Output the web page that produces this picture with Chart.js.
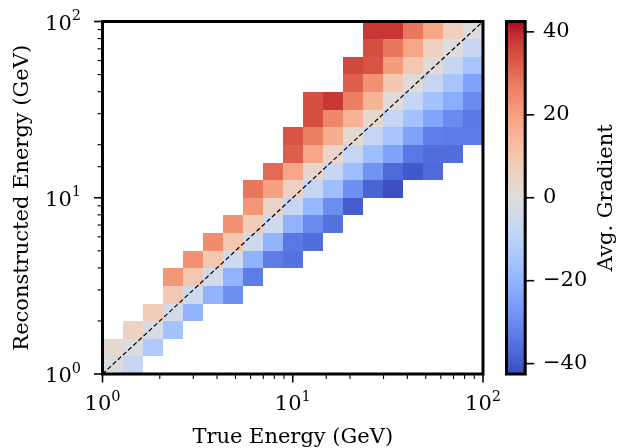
<!DOCTYPE html>
<html>
<head>
<meta charset="utf-8">
<script src="https://cdn.jsdelivr.net/npm/chart.js@4.4.0/dist/chart.umd.min.js"></script>
<style>
  html, body { margin: 0; padding: 0; background: #fff; }
  #wrap { width: 618px; height: 448px; }
</style>
</head>
<body>
<div id="wrap"><canvas id="gradChart" width="618" height="448"></canvas></div>
<script>
// log-spaced bins over 1..100 GeV
const trueBinCount = 19;
const recoBinCount = 20;

// lowest filled reco bin for each true-energy column
const firstRecoBin = [0, 0, 1, 2, 3, 4, 4, 5, 6, 6, 7, 8, 9, 10, 10, 11, 11, 12, 13];

// average gradient per filled cell, column by column, from the lowest reco bin up
const avgGradient = [
  [-1, 3],
  [-7, -1, 6],
  [-13, -2, 8],
  [-16, -3.5, 9.5, 22],
  [-20, -5, 9.5, 23],
  [-20, -3.5, 9.5, 24],
  [-29, -20, -5, 9.5, 23],
  [-33, -20.5, -5, 8, 22, 28],
  [-33, -20, -5, 5, 20, 30],
  [-35, -34, -20, -7, 6, 18.5, 32, 34],
  [-36, -30, -19, -7, 4, 18, 27, 34.5, 34.5],
  [-35, -29.5, -17, -7, 4, 17, 25, 38],
  [-39.5, -29, -17, -7, 3, 15.5, 26.5, 32, 35.5],
  [-38, -28, -17, -7, 3, 15, 23, 34, 34.5, 38],
  [-42, -37, -24.5, -15, -7, 1, 10, 20.5, 28, 38],
  [-40, -34, -24.5, -16, -7, 1, 9.5, 18.5, 28],
  [-37, -36, -32, -24, -16, -7, 1, 7, 18.5],
  [-36, -33, -30, -22, -15, -7, 0, 7],
  [-33, -34, -30, -24.5, -15, -7, -0.5]
];

const axisMin = 1;
const axisMax = 100;
const cbMin = -42.5;
const cbMax = 42.5;
const cbTicks = [-40, -20, 0, 20, 40];

// coolwarm diverging map
const coolwarm = [
  [59,76,192],[68,90,204],[77,104,215],[87,117,225],[98,130,234],[108,142,241],
  [119,154,247],[130,165,251],[141,176,254],[152,185,255],[163,194,255],[174,201,253],
  [184,208,249],[194,213,244],[204,217,238],[213,219,230],[221,221,221],[229,216,209],
  [236,211,197],[241,204,185],[245,196,173],[247,187,160],[247,177,148],[247,166,135],
  [244,154,123],[241,141,111],[236,127,99],[229,112,88],[222,96,77],[213,80,66],
  [203,62,56],[192,40,47],[180,4,38]
];

function cmap(t) {
  t = Math.min(1, Math.max(0, t));
  const p = t * (coolwarm.length - 1);
  const i = Math.min(coolwarm.length - 2, Math.floor(p));
  const f = p - i;
  const a = coolwarm[i], b = coolwarm[i + 1];
  const c = a.map((v, k) => Math.round(v + (b[k] - v) * f));
  return 'rgb(' + c.join(',') + ')';
}

function trueEdge(i) { return Math.pow(10, 2 * i / trueBinCount); }
function recoEdge(j) { return Math.pow(10, 2 * j / recoBinCount); }
function isDecade(v) { return Math.abs(Math.log10(v) - Math.round(Math.log10(v))) < 1e-9; }

const serif = "'DejaVu Serif', serif";
const fontSize = 21;
const expSize = 14.5;

// "10" with a raised exponent; anchor is 'center' or 'right'
function drawPower(ctx, v, x, baseline, anchor) {
  const base = '10', exp = String(Math.round(Math.log10(v)));
  ctx.font = fontSize + 'px ' + serif;
  const wb = ctx.measureText(base).width;
  ctx.font = expSize + 'px ' + serif;
  const we = ctx.measureText(exp).width;
  const w = wb + we;
  const x0 = anchor === 'center' ? x - w / 2 : x - w;
  ctx.textAlign = 'left';
  ctx.textBaseline = 'alphabetic';
  ctx.font = fontSize + 'px ' + serif;
  ctx.fillText(base, x0, baseline);
  ctx.font = expSize + 'px ' + serif;
  ctx.fillText(exp, x0 + wb, baseline - 9.5);
}

const heatmapCells = {
  id: 'heatmapCells',
  beforeDatasetsDraw(chart) {
    const { ctx, scales: { x, y } } = chart;
    ctx.save();
    avgGradient.forEach((col, i) => {
      const x0 = Math.round(x.getPixelForValue(trueEdge(i)));
      const x1 = Math.round(x.getPixelForValue(trueEdge(i + 1)));
      col.forEach((v, k) => {
        const j = firstRecoBin[i] + k;
        const y0 = Math.round(y.getPixelForValue(recoEdge(j)));
        const y1 = Math.round(y.getPixelForValue(recoEdge(j + 1)));
        ctx.fillStyle = cmap((v - cbMin) / (cbMax - cbMin));
        ctx.fillRect(x0, y1, x1 - x0, y0 - y1);
      });
    });
    ctx.restore();
  },
  afterDraw(chart) {
    const { ctx, chartArea: a, scales: { x, y, cb } } = chart;
    ctx.save();
    ctx.strokeStyle = '#000';
    ctx.fillStyle = '#000';

    // log-axis tick marks, longer at each decade, and decade labels
    x.ticks.forEach(t => {
      const major = isDecade(t.value);
      const px = x.getPixelForValue(t.value);
      ctx.lineWidth = major ? 1.6 : 1.1;
      ctx.beginPath();
      ctx.moveTo(px, a.bottom);
      ctx.lineTo(px, a.bottom + (major ? 8.5 : 5));
      ctx.stroke();
      if (major) drawPower(ctx, t.value, px, 410, 'center');
    });
    y.ticks.forEach(t => {
      const major = isDecade(t.value);
      const py = y.getPixelForValue(t.value);
      ctx.lineWidth = major ? 1.6 : 1.1;
      ctx.beginPath();
      ctx.moveTo(a.left, py);
      ctx.lineTo(a.left - (major ? 8.5 : 5), py);
      ctx.stroke();
      if (major) drawPower(ctx, t.value, 81, py + 8, 'right');
    });

    // plot frame
    ctx.lineWidth = 3;
    ctx.strokeRect(a.left, a.top, a.right - a.left, a.bottom - a.top);

    // colorbar
    const cbLeft = 506.5, cbRight = 525.2;
    const cbTop = cb.getPixelForValue(cbMax);
    const cbBottom = cb.getPixelForValue(cbMin);
    const grad = ctx.createLinearGradient(0, cbBottom, 0, cbTop);
    coolwarm.forEach((c, k) => grad.addColorStop(k / (coolwarm.length - 1), 'rgb(' + c.join(',') + ')'));
    ctx.fillStyle = grad;
    ctx.fillRect(cbLeft, cbTop, cbRight - cbLeft, cbBottom - cbTop);
    ctx.lineWidth = 1.6;
    cbTicks.forEach(v => {
      const py = cb.getPixelForValue(v);
      ctx.beginPath();
      ctx.moveTo(cbRight, py);
      ctx.lineTo(cbRight + 9, py);
      ctx.stroke();
    });
    ctx.lineWidth = 3;
    ctx.strokeRect(cbLeft, cbTop, cbRight - cbLeft, cbBottom - cbTop);

    // colorbar label, reading upward
    ctx.translate(607, (cbTop + cbBottom) / 2);
    ctx.rotate(-Math.PI / 2);
    ctx.fillStyle = '#000';
    ctx.font = fontSize + 'px ' + serif;
    ctx.textAlign = 'center';
    ctx.textBaseline = 'middle';
    ctx.fillText('Avg. Gradient', 0, 0);
    ctx.restore();
  }
};

const textFont = { family: serif, size: fontSize, lineHeight: 1 };

// fixed axis boxes; drop the label overflow padding Chart.js adds
function fixBox(w, h) {
  return function (s) {
    if (w !== null) s.width = w;
    if (h !== null) s.height = h;
    s.paddingTop = 0; s.paddingBottom = 0; s.paddingLeft = 0; s.paddingRight = 0;
  };
}

const ctx = document.getElementById('gradChart').getContext('2d');
const gradChart = new Chart(ctx, {
  type: 'scatter',
  data: {
    datasets: [{
      // reconstructed = true reference line
      data: [{ x: axisMin, y: axisMin }, { x: axisMax, y: axisMax }],
      showLine: true,
      borderColor: '#000',
      borderWidth: 1.2,
      borderDash: [4.5, 2.5],
      pointRadius: 0,
      fill: false
    }]
  },
  options: {
    responsive: false,
    animation: false,
    layout: { padding: { top: 21.5, left: 0, right: 0, bottom: 0 } },
    plugins: { legend: { display: false }, tooltip: { enabled: false } },
    scales: {
      x: {
        type: 'logarithmic',
        position: 'bottom',
        min: axisMin,
        max: axisMax,
        grid: { display: false, drawTicks: false },
        border: { display: false },
        ticks: { display: false, autoSkip: false },
        title: { display: true, text: 'True Energy (GeV)', color: '#000', font: textFont, padding: 0 },
        afterFit: fixBox(null, 74)
      },
      y: {
        type: 'logarithmic',
        position: 'left',
        min: axisMin,
        max: axisMax,
        grid: { display: false, drawTicks: false },
        border: { display: false },
        ticks: { display: false, autoSkip: false },
        title: { display: true, text: 'Reconstructed Energy (GeV)', color: '#000', font: textFont, padding: { top: 12 } },
        afterFit: fixBox(102.5, null)
      },
      cb: {
        type: 'linear',
        position: 'right',
        min: cbMin,
        max: cbMax,
        grid: { display: false, drawTicks: false },
        border: { display: false },
        afterBuildTicks(s) { s.ticks = cbTicks.map(v => ({ value: v })); },
        ticks: {
          padding: 60,
          color: '#000',
          font: textFont,
          callback: v => String(v).replace('-', '\u2212')
        },
        afterFit: fixBox(135, null)
      }
    }
  },
  plugins: [heatmapCells]
});
</script>
</body>
</html>
